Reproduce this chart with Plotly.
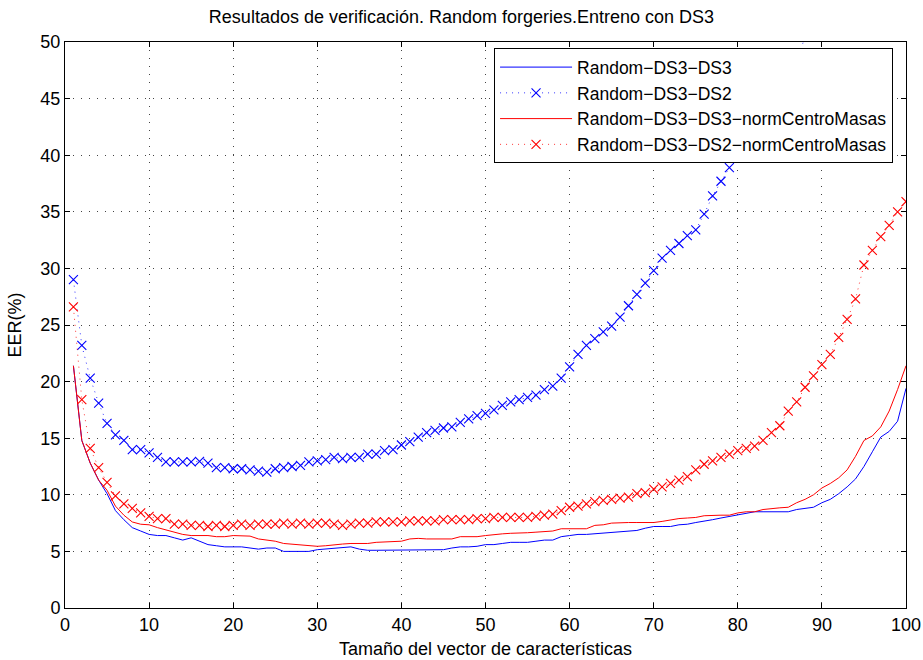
import plotly.graph_objects as go

x_full = list(range(1, 101))

ds3_ds3 = [21.4, 14.8, 12.8, 11.3, 10.1, 8.6, 7.8, 7.1, 6.8, 6.5,
           6.4, 6.4, 6.2, 6.0, 6.2, 5.9, 5.6, 5.5, 5.4, 5.4,
           5.4, 5.3, 5.2, 5.3, 5.3, 5.0, 5.0, 5.0, 5.0, 5.15,
           5.2, 5.3, 5.3, 5.4, 5.2, 5.1, 5.1, 5.1, 5.15, 5.1,
           5.15, 5.15, 5.15, 5.15, 5.15, 5.3, 5.4, 5.4, 5.45, 5.6,
           5.6, 5.7, 5.8, 5.8, 5.8, 5.9, 6.0, 6.0, 6.3, 6.4,
           6.5, 6.5, 6.55, 6.6, 6.7, 6.7, 6.75, 6.85, 7.05, 7.2,
           7.2, 7.2, 7.35, 7.4, 7.55, 7.65, 7.8, 7.95, 8.1, 8.2,
           8.4, 8.5, 8.5, 8.5, 8.5, 8.5, 8.7, 8.8, 8.9, 9.3,
           9.6, 10.1, 10.7, 11.4, 12.5, 13.8, 15.1, 15.6, 16.5, 19.4]

ds3_ds2 = [29.0, 23.2, 20.3, 18.1, 16.3, 15.3, 14.8, 14.0, 14.0, 13.7,
           13.3, 12.9, 12.9, 12.9, 12.9, 12.95, 12.8, 12.4, 12.4, 12.3,
           12.3, 12.2, 12.1, 12.0, 12.3, 12.4, 12.5, 12.6, 12.9, 13.0,
           13.1, 13.3, 13.2, 13.3, 13.3, 13.6, 13.6, 13.9, 14.0, 14.4,
           14.7, 15.1, 15.5, 15.7, 15.9, 16.0, 16.4, 16.7, 17.0, 17.2,
           17.5, 17.9, 18.2, 18.4, 18.6, 18.8, 19.3, 19.6, 20.3, 21.3,
           22.4, 23.2, 23.8, 24.4, 24.9, 25.7, 26.7, 27.7, 28.7, 29.8,
           30.9, 31.6, 32.2, 32.9, 33.4, 34.8, 36.4, 37.7, 38.9, 39.8,
           41.0, 42.2, 43.3, 44.5, 45.6, 46.9, 48.2, 50.5]
x_ds2 = list(range(1, len(ds3_ds2) + 1))

ds3_ds3_norm = [21.4, 14.8, 12.8, 11.3, 10.4, 9.0, 8.2, 7.6, 7.4, 7.35,
                7.1, 6.9, 6.7, 6.5, 6.4, 6.4, 6.4, 6.3, 6.3, 6.4,
                6.4, 6.35, 6.1, 6.0, 5.9, 5.7, 5.65, 5.6, 5.5, 5.45,
                5.5, 5.6, 5.65, 5.7, 5.7, 5.7, 5.8, 5.85, 5.9, 5.9,
                6.1, 6.15, 6.1, 6.1, 6.1, 6.1, 6.3, 6.3, 6.3, 6.4,
                6.5, 6.55, 6.6, 6.6, 6.65, 6.7, 6.75, 6.8, 7.0, 7.0,
                7.0, 7.0, 7.3, 7.35, 7.5, 7.55, 7.55, 7.55, 7.55, 7.55,
                7.65, 7.8, 7.9, 7.95, 8.0, 8.15, 8.2, 8.2, 8.2, 8.4,
                8.5, 8.5, 8.7, 8.8, 8.85, 8.9, 9.3, 9.6, 10.0, 10.6,
                11.0, 11.5, 12.2, 13.4, 14.8, 15.2, 16.0, 17.4, 19.3, 21.4]

ds3_ds2_norm = [26.6, 18.4, 14.1, 12.4, 11.1, 9.9, 9.2, 8.8, 8.4, 8.1,
                7.9, 7.9, 7.4, 7.4, 7.3, 7.3, 7.2, 7.3, 7.2, 7.3,
                7.4, 7.3, 7.4, 7.4, 7.4, 7.5, 7.4, 7.5, 7.4, 7.5,
                7.5, 7.4, 7.3, 7.4, 7.5, 7.5, 7.6, 7.6, 7.6, 7.6,
                7.7, 7.7, 7.7, 7.7, 7.8, 7.8, 7.8, 7.8, 7.9, 7.9,
                8.0, 8.0, 8.0, 8.0, 8.0, 8.1, 8.2, 8.3, 8.6, 8.9,
                9.0, 9.2, 9.4, 9.5, 9.6, 9.7, 9.8, 10.1, 10.2, 10.5,
                10.7, 11.0, 11.3, 11.6, 12.2, 12.7, 13.0, 13.3, 13.6, 13.9,
                14.1, 14.3, 14.8, 15.5, 16.1, 17.4, 18.2, 19.5, 20.5, 21.5,
                22.4, 23.9, 25.5, 27.3, 30.3, 31.6, 32.8, 33.8, 35.0, 35.9]

names = ["Random\u2212DS3\u2212DS3", "Random\u2212DS3\u2212DS2",
         "Random\u2212DS3\u2212DS3\u2212normCentroMasas", "Random\u2212DS3\u2212DS2\u2212normCentroMasas"]

FONT = "Liberation Sans, Arial, Helvetica, sans-serif"

fig = go.Figure()
fig.add_trace(go.Scatter(x=x_full, y=ds3_ds3, mode="lines", name=names[0],
                         line=dict(color="#0000ff", width=1)))
fig.add_trace(go.Scatter(x=x_ds2, y=ds3_ds2, mode="lines+markers", name=names[1],
                         line=dict(color="#0000ff", width=0.8, dash="1px,5px"),
                         marker=dict(symbol="x-thin", size=9,
                                     line=dict(color="#0000ff", width=1.1))))
fig.add_trace(go.Scatter(x=x_full, y=ds3_ds3_norm, mode="lines", name=names[2],
                         line=dict(color="#ff0000", width=1)))
fig.add_trace(go.Scatter(x=x_full, y=ds3_ds2_norm, mode="lines+markers", name=names[3],
                         line=dict(color="#ff0000", width=0.8, dash="1px,5px"),
                         marker=dict(symbol="x-thin", size=9,
                                     line=dict(color="#ff0000", width=1.1))))

axis_common = dict(showline=True, linecolor="black", linewidth=1, mirror="ticks",
                   ticks="inside", ticklen=5, tickcolor="black", automargin=False,
                   showgrid=True, gridcolor="#444444", gridwidth=1, griddash="1px,7px",
                   zeroline=False, tickfont=dict(family=FONT, size=18, color="black"))

fig.update_layout(
    width=923, height=660,
    paper_bgcolor="white", plot_bgcolor="white",
    margin=dict(l=65, r=17, t=42, b=52, autoexpand=False),
    font=dict(family=FONT, size=18, color="black"),
    title=dict(text="Resultados de verificación. Random forgeries.Entreno con DS3",
               x=0.5, xanchor="center", y=0.974, yanchor="middle",
               font=dict(family=FONT, size=18, color="black")),
    xaxis=dict(range=[0, 100], dtick=10, tick0=0,
               title=dict(text="Tamaño del vector de características", standoff=8,
                          font=dict(family=FONT, size=18)),
               **axis_common),
    yaxis=dict(range=[0, 50], dtick=5, tick0=0,
               title=dict(text="EER(%)", standoff=14, font=dict(family=FONT, size=18)),
               **axis_common),
    legend=dict(x=0.9846, y=0.989, xanchor="right", yanchor="top",
                bgcolor="white", bordercolor="black", borderwidth=1,
                font=dict(family=FONT, size=17.5, color="black"),
                itemwidth=72, tracegroupgap=0),
    showlegend=True,
)

fig.write_html("out.html", config={"displayModeBar": False},
               post_script="document.body.style.margin='0';")
